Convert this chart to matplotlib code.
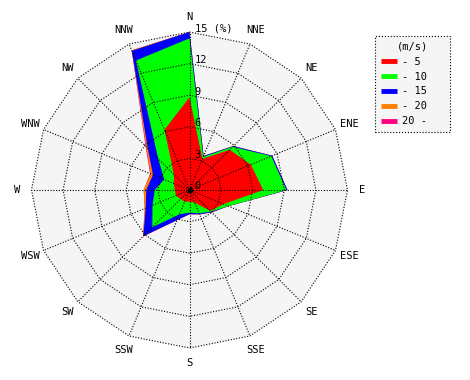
import numpy as np
import matplotlib.pyplot as plt
from matplotlib.lines import Line2D

plt.rcParams['font.family'] = 'DejaVu Sans Mono'

# 16 compass directions, clockwise from north
directions = ['N', 'NNE', 'NE', 'ENE', 'E', 'ESE', 'SE', 'SSE',
              'S', 'SSW', 'SW', 'WSW', 'W', 'WNW', 'NW', 'NNW']
speed_labels = ['- 5', '- 10', '- 15', '- 20', '20 -']
colors = ['#ff0000', '#00ff00', '#0000ff', '#ff8000', '#ff0080']

# frequency (%) of each speed class per direction
freq_0_5   = [8.8, 3.2, 5.4, 6.3, 7.0, 3.5, 2.8, 1.3, 1.1, 1.2, 1.2, 1.4, 1.4, 1.6, 2.1, 6.2]
freq_5_10  = [5.6, 0.2, 0.4, 2.1, 2.2, 0.5, 0.1, 1.1, 1.05, 1.3, 3.8, 2.4, 1.9, 1.0, 2.1, 7.1]
freq_10_15 = [0.6, 0.1, 0.1, 0.1, 0.1, 0.0, 0.1, 0.1, 0.15, 0.6, 1.2, 0.7, 0.8, 1.15, 1.4, 1.0]
freq_15_20 = [0.0, 0.0, 0.0, 0.0, 0.0, 0.0, 0.0, 0.0, 0.0, 0.0, 0.05, 0.1, 0.25, 0.25, 0.2, 0.05]
freq_20_up = [0.0, 0.0, 0.0, 0.0, 0.0, 0.0, 0.0, 0.0, 0.0, 0.0, 0.0, 0.0, 0.0, 0.05, 0.1, 0.0]

rings = [3, 6, 9, 12, 15]

fig = plt.figure(figsize=(4.7, 3.8), dpi=100)
ax = fig.add_axes([0, 0, 1, 1])
scale = 158 / 15.0  # pixels per percent
ax.set_xlim(-189.5 / scale, (470 - 189.5) / scale)
ax.set_ylim(-(380 - 190) / scale, 190 / scale)
ax.axis('off')

theta = np.radians(np.arange(16) * 22.5)


def polygon(r):
    r = np.broadcast_to(np.asarray(r, dtype=float), theta.shape)
    x = r * np.sin(theta)
    y = r * np.cos(theta)
    return np.append(x, x[0]), np.append(y, y[0])


# background inside the outer ring
ax.fill(*polygon(15), color='#f5f5f5', lw=0, zorder=0)

# stacked speed classes, outermost first
bands = np.array([freq_0_5, freq_5_10, freq_10_15, freq_15_20, freq_20_up])
cum = np.cumsum(bands, axis=0)
for i in range(len(bands) - 1, -1, -1):
    ax.fill(*polygon(cum[i]), color=colors[i], lw=0, zorder=1 + (5 - i) * 0.1)

# dotted grid: rings and spokes
dots = (0, (1, 1.5))
for r in rings:
    ax.plot(*polygon(r), color='k', lw=0.8, ls=dots, zorder=3)
for t in theta:
    ax.plot([0, 15 * np.sin(t)], [0, 15 * np.cos(t)], color='k', lw=0.8, ls=dots, zorder=3)
ax.plot(0, 0, 'o', color='k', ms=3, zorder=4)

# radial labels
for r in [0] + rings:
    txt = '15 (%)' if r == 15 else str(r)
    ax.text(0.5, r + 0.35, txt, ha='left', va='center', fontsize=7.5, zorder=5)

# direction labels
for name, t in zip(directions, theta):
    ax.text(16.4 * np.sin(t), 16.4 * np.cos(t), name, ha='center', va='center', fontsize=7.5)

# legend
handles = [Line2D([0], [0], color=c, lw=3.5, solid_capstyle='butt') for c in colors]
leg = ax.legend(handles, speed_labels, title='(m/s)', loc='upper left', mode='expand',
                bbox_to_anchor=(375 / 470, 1 - 131 / 380, 75 / 470, 95 / 380),
                bbox_transform=fig.transFigure,
                borderaxespad=0, fontsize=7.5, title_fontsize=7.5, fancybox=False,
                handlelength=1.6, handletextpad=0.4, labelspacing=0.47,
                borderpad=0.55, framealpha=1)
leg.get_frame().set_facecolor('#f5f5f5')
leg.get_frame().set_edgecolor('k')
leg.get_frame().set_linestyle(':')
leg.get_frame().set_linewidth(0.8)

fig.savefig('out.png', dpi=100)
